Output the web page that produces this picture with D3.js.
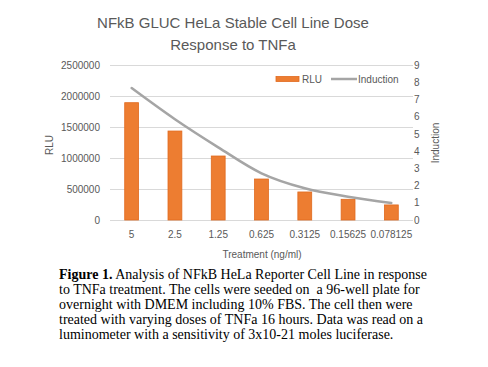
<!DOCTYPE html>
<html><head><meta charset="utf-8">
<script src="https://cdn.jsdelivr.net/npm/d3@7"></script>
<style>
body{margin:0;background:#fff;}
svg{display:block;}
.cap{white-space:pre;}
</style></head>
<body>
<svg id="chart" width="488" height="367"></svg>
<script>
const categories = ["5","2.5","1.25","0.625","0.3125","0.15625","0.078125"];
const rluValues = [1892000,1435000,1032000,661000,452000,334000,243000];
const inductionValues = [7.66,5.85,4.22,2.71,1.84,1.35,0.99];
const leftTicks = [0,500000,1000000,1500000,2000000,2500000];
const rightTicks = [0,1,2,3,4,5,6,7,8,9];
const titleLines = ["NFkB GLUC HeLa Stable Cell Line Dose","Response to TNFa"];
const captionLines = [
  ["Figure 1.", " Analysis of NFkB HeLa Reporter Cell Line in response"],
  ["", "to TNFa treatment. The cells were seeded on  a 96-well plate for"],
  ["", "overnight with DMEM including 10% FBS. The cell then were"],
  ["", "treated with varying doses of TNFa 16 hours. Data was read on a"],
  ["", "luminometer with a sensitivity of 3x10-21 moles luciferase."]
];

const svg = d3.select("#chart");
const plot = {left:110, right:413, top:65, bottom:220};
const font = "'Liberation Sans', Arial, sans-serif";
const gray = "#595959";

const x = d3.scaleBand().domain(categories).range([plot.left, plot.right]).paddingInner(0.68).paddingOuter(0.34);
const xc = d3.scalePoint().domain(categories).range([plot.left, plot.right]).padding(0.5);
const yL = d3.scaleLinear().domain([0,2500000]).range([plot.bottom, plot.top]);
const yR = d3.scaleLinear().domain([0,9]).range([plot.bottom, plot.top]);

// gridlines
svg.append("g").selectAll("line").data(leftTicks).join("line")
  .attr("x1", plot.left).attr("x2", plot.right)
  .attr("y1", d=>yL(d)+0.5).attr("y2", d=>yL(d)+0.5)
  .attr("stroke", "#d9d9d9").attr("stroke-width", 1);

// left axis
const axL = svg.append("g").attr("transform", `translate(${plot.left},0)`)
  .call(d3.axisLeft(yL).tickValues(leftTicks).tickFormat(d3.format("d")).tickSize(0).tickPadding(10));
axL.select(".domain").remove();
axL.selectAll("text").attr("font-family", font).attr("font-size", 10).attr("fill", gray);

// right axis
const axR = svg.append("g").attr("transform", `translate(${plot.right},0)`)
  .call(d3.axisRight(yR).tickValues(rightTicks).tickFormat(d3.format("d")).tickSize(0).tickPadding(1));
axR.select(".domain").remove();
axR.selectAll("text").attr("font-family", font).attr("font-size", 10).attr("fill", gray);

// bottom axis
const axB = svg.append("g").attr("transform", `translate(0,${plot.bottom})`)
  .call(d3.axisBottom(x).tickSize(0).tickPadding(11));
axB.select(".domain").remove();
axB.selectAll("text").attr("font-family", font).attr("font-size", 10).attr("fill", gray);

// bars
svg.append("g").selectAll("rect").data(rluValues).join("rect")
  .attr("x", (d,i)=>x(categories[i]))
  .attr("y", d=>yL(d))
  .attr("width", x.bandwidth())
  .attr("height", d=>plot.bottom - yL(d))
  .attr("fill", "#ed7d31").attr("stroke", "#e06a1e").attr("stroke-width", 0.8);

// line
const line = d3.line().x((d,i)=>xc(categories[i])).y(d=>yR(d)).curve(d3.curveMonotoneX);
svg.append("path").datum(inductionValues).attr("d", line)
  .attr("fill", "none").attr("stroke", "#a5a5a5").attr("stroke-width", 2.5).attr("stroke-linecap","round");

// title
svg.append("g").selectAll("text").data(titleLines).join("text")
  .attr("x", 233).attr("y", (d,i)=>28 + i*22)
  .attr("text-anchor", "middle").attr("font-family", font).attr("font-size", 15).attr("fill", gray)
  .text(d=>d);

// axis titles
svg.append("text").attr("transform", "translate(53,145) rotate(-90)")
  .attr("text-anchor","middle").attr("font-family", font).attr("font-size", 10).attr("fill", gray).text("RLU");
svg.append("text").attr("transform", "translate(439,143) rotate(-90)")
  .attr("text-anchor","middle").attr("font-family", font).attr("font-size", 10).attr("fill", gray).text("Induction");
svg.append("text").attr("x", 262).attr("y", 258)
  .attr("text-anchor","middle").attr("font-family", font).attr("font-size", 10).attr("fill", gray).text("Treatment (ng/ml)");

// legend
const lg = svg.append("g");
lg.append("rect").attr("x", 276).attr("y", 76.5).attr("width", 23).attr("height", 5)
  .attr("fill", "#ed7d31").attr("stroke", "#e06a1e").attr("stroke-width", 0.8);
lg.append("text").attr("x", 302).attr("y", 82.5).attr("font-family", font).attr("font-size", 10).attr("fill", gray).text("RLU");
lg.append("line").attr("x1", 331).attr("x2", 357).attr("y1", 79).attr("y2", 79)
  .attr("stroke", "#a5a5a5").attr("stroke-width", 2.5);
lg.append("text").attr("x", 358).attr("y", 82.5).attr("font-family", font).attr("font-size", 10).attr("fill", gray).text("Induction");

// caption
const cap = svg.append("g").selectAll("text").data(captionLines).join("text")
  .attr("class", "cap")
  .attr("x", 59).attr("y", (d,i)=>279 + i*15)
  .attr("font-family", "'Liberation Serif', 'Times New Roman', serif").attr("font-size", 14).attr("fill", "#000");
cap.append("tspan").attr("font-weight", "bold").text(d=>d[0]);
cap.append("tspan").text(d=>d[1]);
</script>
</body></html>
